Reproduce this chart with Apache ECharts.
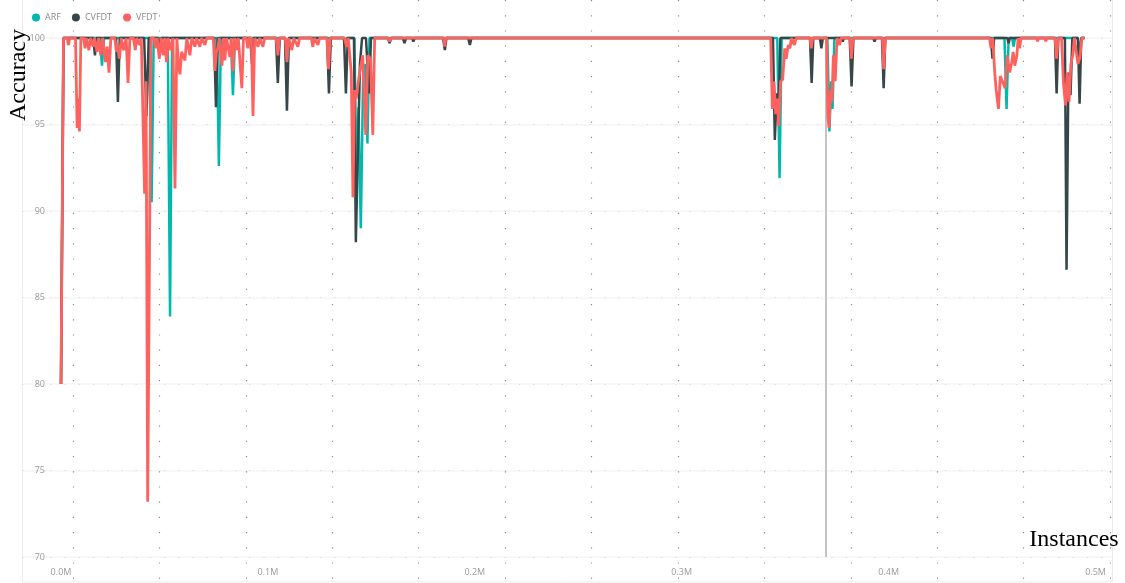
<!DOCTYPE html>
<html>
<head>
<meta charset="utf-8">
<script src="https://cdn.jsdelivr.net/npm/echarts@6/dist/echarts.min.js"></script>
<style>
  html, body { margin: 0; padding: 0; background: #ffffff; }
  #chart { width: 1125px; height: 583px; }
</style>
</head>
<body>
<div id="chart"></div>
<script>
// Accuracy (%) over processed instances (thousands) for three stream learners.
const seriesNames = ['ARF', 'CVFDT', 'VFDT'];
const seriesColors = ['#01B8AA', '#374649', '#FD625E'];
const yTicks = [70, 75, 80, 85, 90, 95, 100];
const xTickStep = 100;      // thousands of instances between x labels
const cursorAt = 369.6;     // hover cursor position (thousands of instances)

const arfPoints = [
  [0, 80], [1.2, 100],
  [18.8, 100], [19.8, 98.4], [20.8, 100],
  [42.6, 100], [43.8, 90.5], [44.8, 100],
  [51.6, 100], [52.7, 83.9], [53.7, 100],
  [75.3, 100], [76.3, 92.6], [77.3, 100],
  [82.1, 100], [83.1, 96.7], [84.1, 100],
  [108.3, 100], [109.2, 97.6], [110.1, 100],
  [136.6, 100], [137.3, 99.6], [138, 100],
  [141.8, 100], [142.8, 92.3], [143.8, 96], [144.9, 89.0], [146, 97.5], [147.2, 98.5], [148.1, 93.9], [149.1, 100],
  [346.2, 100], [347.3, 91.9], [348.3, 100],
  [370.4, 100], [371.4, 94.6], [372.2, 97.5], [372.9, 95.9], [373.8, 100],
  [456, 100], [457, 95.9], [458, 100],
  [459.7, 100], [460.4, 99.5], [461.1, 100],
  [491.4, 100], [492.3, 99.2], [493.2, 100],
  [494.7, 100]
];

const cvfdtPoints = [
  [0, 80], [1.2, 100],
  [15.6, 100], [16.4, 99.0], [17.2, 100],
  [26.6, 100], [27.5, 96.3], [28.4, 100],
  [40.2, 100], [41.3, 95.5], [42.4, 100],
  [47, 100], [47.8, 99.5], [48.6, 100],
  [74, 100], [74.9, 96.0], [75.8, 100],
  [91.5, 100], [92.3, 98.5], [93.1, 100],
  [103.9, 100], [104.8, 97.4], [105.7, 100],
  [108.3, 100], [109.2, 95.8], [110.1, 100],
  [128.6, 100], [129.5, 96.8], [130.4, 100],
  [136.8, 100], [137.7, 96.8], [138.6, 100],
  [141.6, 100], [142.5, 88.2], [143.5, 93.4], [144.5, 98.5], [145.5, 100],
  [147.4, 100], [148.3, 98.0], [149, 96.8], [149.8, 100],
  [158, 100], [158.8, 99.7], [159.6, 100],
  [165.2, 100], [166, 99.7], [166.8, 100],
  [169.6, 100], [170.3, 99.8], [171, 100],
  [184.7, 100], [185.5, 99.3], [186.3, 100],
  [196.8, 100], [197.6, 99.6], [198.4, 100],
  [344.1, 100], [345, 94.1], [345.9, 96.8], [346.8, 95.7], [347.7, 100],
  [362, 100], [362.8, 97.4], [363.6, 100],
  [366.8, 100], [367.5, 99.4], [368.2, 100],
  [377.2, 100], [377.8, 99.8], [378.4, 100],
  [381.2, 100], [382.1, 97.2], [383, 100],
  [392.5, 100], [393.2, 99.8], [393.9, 100],
  [396.8, 100], [397.6, 97.1], [398.4, 100],
  [449.4, 100], [450.2, 98.8], [451, 100],
  [457.4, 100], [458, 99.7], [458.6, 100],
  [480.4, 100], [481.2, 96.8], [482, 100],
  [485.2, 100], [486, 86.6], [486.9, 98], [487.9, 96.7], [488.8, 100],
  [491.5, 100], [492.3, 96.2], [493.1, 100],
  [494.7, 100]
];

const vfdtPoints = [
  [0, 80], [1.2, 100], [3, 100], [3.6, 99.6], [4.2, 100],
  [7, 100], [7.8, 94.8], [8.4, 96.5], [8.9, 94.6], [9.6, 100],
  [11, 100], [11.6, 99.4], [12.2, 100], [13.5, 99.3], [14.2, 100], [15.5, 99.5], [16.2, 100],
  [17.4, 99.2], [18.2, 100], [19.2, 99.0], [20.2, 100],
  [21.5, 98.6], [22.3, 99.5], [23.2, 98.0], [24.1, 100],
  [26, 100], [26.8, 99.2], [27.5, 99.6], [28.3, 98.8], [29.1, 100], [30.3, 99.3], [31.5, 100],
  [32.4, 97.4], [33.3, 100],
  [35, 100], [35.9, 99.3], [36.6, 100], [38, 99.6], [38.8, 100],
  [39.6, 100], [40.4, 91], [41.1, 97.5], [41.9, 73.2], [42.7, 86.5], [43.5, 100],
  [45, 100], [45.8, 99.4], [46.5, 100], [47.5, 98.8], [48.4, 100], [49.4, 99.0], [50.2, 100],
  [51, 98.6], [51.8, 100], [53, 99.3], [54.1, 100], [55.1, 91.3], [56, 100],
  [56.9, 98.3], [57.5, 97.9], [58.3, 99.2], [59.9, 98.7], [60.8, 100], [62.3, 99.0], [63.2, 100],
  [64.7, 99.5], [65.5, 100], [67.1, 99.5], [67.9, 100], [69.6, 99.6], [70.4, 100],
  [73.6, 100], [74.4, 98.1], [75.1, 99.2], [75.8, 99.4], [76.5, 100], [77.8, 98.4], [78.6, 100],
  [79.2, 98.7], [80, 100], [81.6, 98.9], [82.3, 100], [83.1, 98.1], [83.9, 100],
  [85, 99.3], [85.7, 100], [86.6, 100], [87.4, 97.1], [88.2, 100], [89.6, 100], [90.3, 99.4], [91, 100],
  [92, 100], [92.8, 95.5], [93.6, 100], [95.2, 99.5], [96, 100], [97.6, 99.5], [98.4, 100],
  [104, 100], [104.8, 99.0], [105.6, 100], [108.4, 100], [109.2, 98.6], [110, 100],
  [111.6, 99.3], [112.4, 100], [114.5, 99.5], [115.3, 100],
  [121, 100], [121.7, 99.5], [122.5, 100], [124.2, 99.6], [125, 100],
  [128.5, 100], [129.3, 98.2], [130.1, 100],
  [137, 100], [138, 99.5], [138.8, 100],
  [139.6, 100], [140.3, 98], [141.1, 90.8], [141.9, 97.0], [142.7, 96.5], [143.5, 97.3],
  [144.6, 98.2], [145.8, 99], [147.3, 94.4], [148.3, 99], [149.6, 98.8], [150.7, 94.4], [151.6, 100],
  [158, 100], [158.8, 99.8], [159.6, 100], [185, 100], [185.5, 99.5], [186, 100],
  [343, 100], [343.8, 95.9], [344.6, 97.5], [345.4, 95.6], [346.2, 96.5], [346.9, 94.9],
  [347.8, 97.5], [348.8, 97.6], [349.8, 99.4], [350.5, 98.8], [351.5, 99.6], [352.3, 99.4], [353, 100],
  [354.5, 99.6], [355.3, 100],
  [362, 100], [362.6, 99.4], [363.3, 100],
  [370, 100], [370.6, 95.5], [371.2, 94.8], [372, 97], [372.6, 96.3], [373.3, 99], [374.2, 97.5],
  [375.1, 100], [376.3, 99.6], [377, 100],
  [381.3, 100], [382, 98.8], [382.8, 100], [397, 100], [397.6, 98.2], [398.4, 100],
  [448.8, 100], [449.5, 99.4], [450.3, 100], [451.3, 98], [452, 97], [453.1, 95.9], [454, 97.8],
  [455, 97.5], [456.3, 97.1], [457.3, 99], [458.5, 98.0], [459.5, 98.6], [460.2, 99.2], [461, 98.4],
  [462, 99], [462.6, 100], [463.3, 99.4], [464, 100],
  [471.5, 100], [472, 99.8], [472.5, 100], [475.5, 100], [476, 99.8], [476.5, 100],
  [480.4, 100], [481.2, 98.8], [482, 100], [483.6, 100], [484.5, 97.4], [485.5, 96.1], [486.3, 98],
  [487.2, 96.3], [488.1, 98.5], [489, 99], [489.8, 100], [491.5, 98.5], [492.5, 98.9], [493.4, 100],
  [494.7, 100]
];

const seriesPoints = [arfPoints, cvfdtPoints, vfdtPoints];

const chart = echarts.init(document.getElementById('chart'), null, { renderer: 'canvas' });

const yMin = yTicks[0];
const yMax = yTicks[yTicks.length - 1];
const yStep = yTicks[1] - yTicks[0];
const smallFont = "'Open Sans', 'DejaVu Sans', sans-serif";

const lineSeries = seriesNames.map((name, i) => ({
  name: name,
  type: 'line',
  xAxisIndex: 0,
  yAxisIndex: 0,
  data: seriesPoints[i],
  showSymbol: false,
  symbol: 'none',
  clip: false,
  z: 3 + i,
  lineStyle: { width: i === 2 ? 2.8 : 2.5, color: seriesColors[i] },
  itemStyle: { color: seriesColors[i] },
  emphasis: { disabled: true },
  markLine: i === 0 ? {
    silent: true,
    symbol: 'none',
    label: { show: false },
    lineStyle: { color: '#c4c4c4', width: 2, type: 'solid' },
    data: [{ xAxis: cursorAt }]
  } : undefined
}));

chart.setOption({
  animation: false,
  backgroundColor: '#ffffff',
  legend: {
    data: seriesNames,
    left: 27,
    top: 8,
    icon: 'circle',
    itemWidth: 8,
    itemHeight: 8,
    itemGap: 11,
    textStyle: { fontSize: 9, color: '#8a8a8a', fontFamily: smallFont }
  },
  grid: [
    { left: 61, right: 15, top: 38, bottom: 26 },   // plot
    { left: 22, right: 13, top: 38, bottom: 26 },   // dotted horizontal guides
    { left: 22, right: 13, top: 38, bottom: 26 },   // faint solid horizontal guides
    { left: 73, right: 15, top: 0, bottom: 0 }      // dotted vertical background guides
  ],
  xAxis: [
    {
      gridIndex: 0, type: 'value', min: 0, max: 507, interval: xTickStep,
      axisLine: { show: false }, axisTick: { show: false }, splitLine: { show: false },
      axisLabel: {
        show: true, showMaxLabel: false, margin: 11, fontSize: 9, color: '#9a9a9a', fontFamily: smallFont,
        formatter: v => (v / 1000).toFixed(1) + 'M'
      }
    },
    { gridIndex: 1, type: 'value', min: 0, max: 1, show: false },
    { gridIndex: 2, type: 'value', min: 0, max: 1, show: false },
    {
      gridIndex: 3, type: 'value', min: 0, max: 12, interval: 1,
      axisLine: { show: false }, axisTick: { show: false }, axisLabel: { show: false },
      splitLine: { show: true, lineStyle: { color: '#8c8c8c', width: 1.2, type: [1.2, 14] } }
    }
  ],
  yAxis: [
    {
      gridIndex: 0, type: 'value', min: yMin, max: yMax, interval: yStep,
      axisLine: { show: false }, axisTick: { show: false }, splitLine: { show: false },
      axisLabel: { margin: 16, fontSize: 9, color: '#9a9a9a', fontFamily: smallFont }
    },
    {
      gridIndex: 1, type: 'value', min: yMin, max: yMax, interval: yStep,
      axisLine: { show: false }, axisTick: { show: false }, axisLabel: { show: false },
      splitLine: { show: true, lineStyle: { color: '#8a8a8a', width: 1.2, type: [1.2, 13] } }
    },
    {
      gridIndex: 2, type: 'value', min: yMin, max: yMax, interval: yStep,
      axisLine: { show: false }, axisTick: { show: false }, axisLabel: { show: false },
      splitLine: { show: true, lineStyle: { color: '#f5f5f5', width: 1.5 } }
    },
    { gridIndex: 3, type: 'value', min: 0, max: 1, show: false }
  ],
  graphic: [
    {
      type: 'rect', silent: true, z: -10,
      shape: { x: 22.5, y: -2, width: 1090, height: 584 },
      style: { fill: 'none', stroke: '#ececec', lineWidth: 1 }
    },
    {
      type: 'text', silent: true, z: 10,
      x: 19, y: 75, rotation: Math.PI / 2,
      style: {
        text: 'Accuracy', fill: '#000000', fontSize: 24,
        fontFamily: "'Liberation Serif', 'Times New Roman', serif",
        align: 'center', verticalAlign: 'middle'
      }
    },
    {
      type: 'text', silent: true, z: 10,
      x: 1074, y: 540,
      style: {
        text: 'Instances', fill: '#000000', fontSize: 24,
        fontFamily: "'Liberation Serif', 'Times New Roman', serif",
        align: 'center', verticalAlign: 'middle'
      }
    }
  ],
  series: lineSeries
});
</script>
</body>
</html>
